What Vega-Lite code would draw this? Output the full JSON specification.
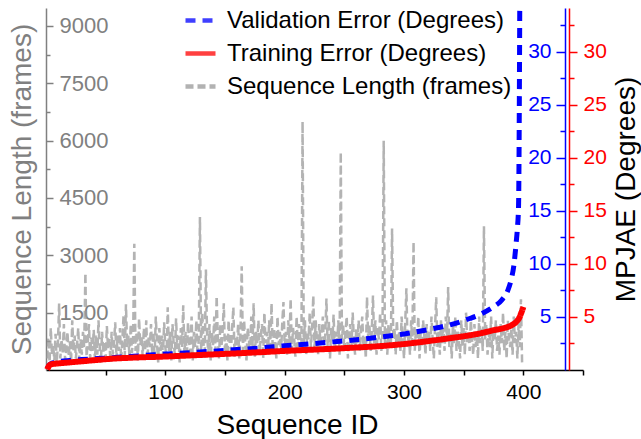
{
"$schema": "https://vega.github.io/schema/vega-lite/v6.json",
"width": 537, "height": 362,
"autosize": {"type": "none"},
"padding": {"left": 46, "top": 8, "right": 58, "bottom": 69},
"background": "white",
"config": {"view": {"stroke": null}, "font": "Liberation Sans",
  "axis": {"grid": false, "labelFont": "Liberation Sans", "titleFont": "Liberation Sans", "titleFontWeight": "normal", "labelOverlap": false, "labelFlush": false, "domainWidth": 1.5, "tickWidth": 1.5},
  "legend": {"orient": "none", "legendX": 137, "legendY": -5, "labelFontSize": 24, "labelFont": "Liberation Sans", "labelColor": "black", "symbolType": "stroke", "symbolSize": 900, "symbolStrokeWidth": 4.5, "labelOffset": 9, "rowPadding": 3, "labelLimit": 0}},
"datasets": {
"errors": [
{"id":1,"train":0.05,"val":0.1},{"id":3,"train":0.45,"val":0.5},{"id":5,"train":0.55,"val":0.65},{"id":10,"train":0.62,"val":0.78},{"id":20,"train":0.72,"val":0.9},{"id":30,"train":0.82,"val":0.98},{"id":40,"train":0.92,"val":1.05},{"id":50,"train":1.02,"val":1.12},{"id":60,"train":1.1,"val":1.2},{"id":70,"train":1.15,"val":1.27},{"id":80,"train":1.2,"val":1.35},{"id":90,"train":1.23,"val":1.43},{"id":100,"train":1.27,"val":1.5},{"id":120,"train":1.37,"val":1.63},{"id":140,"train":1.47,"val":1.77},{"id":160,"train":1.57,"val":1.92},{"id":180,"train":1.68,"val":2.08},{"id":200,"train":1.8,"val":2.28},{"id":220,"train":1.9,"val":2.45},{"id":240,"train":2.0,"val":2.65},{"id":260,"train":2.12,"val":2.85},{"id":280,"train":2.25,"val":3.1},{"id":300,"train":2.45,"val":3.4},{"id":320,"train":2.72,"val":3.8},{"id":340,"train":3.02,"val":4.3},{"id":355,"train":3.27,"val":4.85},{"id":365,"train":3.48,"val":5.3},{"id":375,"train":3.75,"val":5.95},{"id":382,"train":3.9,"val":6.6},{"id":387,"train":4.06,"val":7.5},{"id":390,"train":4.2,"val":8.6},{"id":392,"train":4.35,"val":9.8},{"id":393,"train":4.42,"val":10.8},{"id":394,"train":4.52,"val":12.0},{"id":395,"train":4.65,"val":13.3},{"id":396,"train":4.8,"val":15.5},{"id":397,"train":5.0,"val":34},{"id":398,"train":5.3,"val":null},{"id":399,"train":5.6,"val":null},{"id":400,"train":5.95,"val":null}
],
"lengths": [
{"id":1,"len":300},{"id":2,"len":850},{"id":3,"len":200},{"id":4,"len":1100},{"id":5,"len":400},{"id":6,"len":650},{"id":7,"len":250},{"id":8,"len":950},{"id":9,"len":180},{"id":10,"len":700},
{"id":11,"len":1740},{"id":12,"len":300},{"id":13,"len":800},{"id":14,"len":450},{"id":15,"len":1200},{"id":16,"len":250},{"id":17,"len":600},{"id":18,"len":1000},{"id":19,"len":350},{"id":20,"len":750},
{"id":21,"len":200},{"id":22,"len":1300},{"id":23,"len":500},{"id":24,"len":900},{"id":25,"len":300},{"id":26,"len":650},{"id":27,"len":1100},{"id":28,"len":250},{"id":29,"len":800},{"id":30,"len":400},
{"id":31,"len":1000},{"id":32,"len":600},{"id":33,"len":2540},{"id":34,"len":350},{"id":35,"len":700},{"id":36,"len":1200},{"id":37,"len":300},{"id":38,"len":850},{"id":39,"len":500},{"id":40,"len":1050},
{"id":41,"len":250},{"id":42,"len":900},{"id":43,"len":400},{"id":44,"len":1300},{"id":45,"len":600},{"id":46,"len":200},{"id":47,"len":1000},{"id":48,"len":450},{"id":49,"len":750},{"id":50,"len":300},
{"id":51,"len":1150},{"id":52,"len":550},{"id":53,"len":850},{"id":54,"len":200},{"id":55,"len":1000},{"id":56,"len":400},{"id":57,"len":700},{"id":58,"len":1250},{"id":59,"len":300},{"id":60,"len":900},
{"id":61,"len":500},{"id":62,"len":1100},{"id":63,"len":250},{"id":64,"len":800},{"id":65,"len":1430},{"id":66,"len":350},{"id":67,"len":1720},{"id":68,"len":600},{"id":69,"len":900},{"id":70,"len":300},
{"id":71,"len":1200},{"id":72,"len":450},{"id":73,"len":800},{"id":74,"len":3300},{"id":75,"len":500},{"id":76,"len":1000},{"id":77,"len":250},{"id":78,"len":1350},{"id":79,"len":650},{"id":80,"len":900},
{"id":81,"len":350},{"id":82,"len":1100},{"id":83,"len":500},{"id":84,"len":1300},{"id":85,"len":250},{"id":86,"len":850},{"id":87,"len":600},{"id":88,"len":1200},{"id":89,"len":400},{"id":90,"len":1000},
{"id":91,"len":300},{"id":92,"len":1400},{"id":93,"len":700},{"id":94,"len":200},{"id":95,"len":1100},{"id":96,"len":500},{"id":97,"len":900},{"id":98,"len":350},{"id":99,"len":1250},{"id":100,"len":600},
{"id":101,"len":300},{"id":102,"len":1640},{"id":103,"len":500},{"id":104,"len":1000},{"id":105,"len":250},{"id":106,"len":1200},{"id":107,"len":700},{"id":108,"len":400},{"id":109,"len":1350},{"id":110,"len":550},
{"id":111,"len":900},{"id":112,"len":200},{"id":113,"len":1100},{"id":114,"len":600},{"id":115,"len":1690},{"id":116,"len":400},{"id":117,"len":1000},{"id":118,"len":300},{"id":119,"len":1250},{"id":120,"len":700},
{"id":121,"len":450},{"id":122,"len":1400},{"id":123,"len":250},{"id":124,"len":1000},{"id":125,"len":600},{"id":126,"len":1300},{"id":127,"len":350},{"id":128,"len":800},{"id":129,"len":4000},{"id":130,"len":500},
{"id":131,"len":1500},{"id":132,"len":700},{"id":133,"len":300},{"id":134,"len":2630},{"id":135,"len":900},{"id":136,"len":450},{"id":137,"len":1200},{"id":138,"len":250},{"id":139,"len":1000},{"id":140,"len":650},
{"id":141,"len":1400},{"id":142,"len":500},{"id":143,"len":1930},{"id":144,"len":800},{"id":145,"len":300},{"id":146,"len":1200},{"id":147,"len":600},{"id":148,"len":1000},{"id":149,"len":1745},{"id":150,"len":400},
{"id":151,"len":900},{"id":152,"len":250},{"id":153,"len":1300},{"id":154,"len":700},{"id":155,"len":500},{"id":156,"len":1100},{"id":157,"len":1640},{"id":158,"len":350},{"id":159,"len":900},{"id":160,"len":600},
{"id":161,"len":1200},{"id":162,"len":300},{"id":163,"len":1000},{"id":164,"len":2716},{"id":165,"len":500},{"id":166,"len":1300},{"id":167,"len":700},{"id":168,"len":250},{"id":169,"len":1100},{"id":170,"len":800},
{"id":171,"len":400},{"id":172,"len":1400},{"id":173,"len":600},{"id":174,"len":1745},{"id":175,"len":350},{"id":176,"len":1000},{"id":177,"len":700},{"id":178,"len":1300},{"id":179,"len":450},{"id":180,"len":900},
{"id":181,"len":1200},{"id":182,"len":300},{"id":183,"len":1500},{"id":184,"len":700},{"id":185,"len":1000},{"id":186,"len":400},{"id":187,"len":1300},{"id":188,"len":600},{"id":189,"len":1745},{"id":190,"len":500},
{"id":191,"len":1100},{"id":192,"len":800},{"id":193,"len":300},{"id":194,"len":1400},{"id":195,"len":650},{"id":196,"len":1000},{"id":197,"len":450},{"id":198,"len":1250},{"id":199,"len":1780},{"id":200,"len":600},
{"id":201,"len":1000},{"id":202,"len":400},{"id":203,"len":1300},{"id":204,"len":700},{"id":205,"len":1870},{"id":206,"len":500},{"id":207,"len":1100},{"id":208,"len":800},{"id":209,"len":350},{"id":210,"len":1400},
{"id":211,"len":600},{"id":212,"len":1200},{"id":213,"len":900},{"id":214,"len":500},{"id":215,"len":6500},{"id":216,"len":700},{"id":217,"len":1300},{"id":218,"len":400},{"id":219,"len":1000},{"id":220,"len":800},
{"id":221,"len":1500},{"id":222,"len":600},{"id":223,"len":1100},{"id":224,"len":1950},{"id":225,"len":500},{"id":226,"len":1300},{"id":227,"len":800},{"id":228,"len":400},{"id":229,"len":1200},{"id":230,"len":700},
{"id":231,"len":1000},{"id":232,"len":1400},{"id":233,"len":500},{"id":234,"len":900},{"id":235,"len":1870},{"id":236,"len":600},{"id":237,"len":1300},{"id":238,"len":300},{"id":239,"len":1100},{"id":240,"len":800},
{"id":241,"len":1450},{"id":242,"len":500},{"id":243,"len":1000},{"id":244,"len":700},{"id":245,"len":1300},{"id":246,"len":400},{"id":247,"len":5700},{"id":248,"len":800},{"id":249,"len":1200},{"id":250,"len":500},
{"id":251,"len":1000},{"id":252,"len":1400},{"id":253,"len":300},{"id":254,"len":900},{"id":255,"len":1200},{"id":256,"len":600},{"id":257,"len":1500},{"id":258,"len":800},{"id":259,"len":400},{"id":260,"len":1100},
{"id":261,"len":700},{"id":262,"len":1300},{"id":263,"len":500},{"id":264,"len":1000},{"id":265,"len":1400},{"id":266,"len":600},{"id":267,"len":900},{"id":268,"len":300},{"id":269,"len":1910},{"id":270,"len":800},
{"id":271,"len":1200},{"id":272,"len":500},{"id":273,"len":1000},{"id":274,"len":1950},{"id":275,"len":700},{"id":276,"len":1300},{"id":277,"len":400},{"id":278,"len":1100},{"id":279,"len":800},{"id":280,"len":1500},
{"id":281,"len":500},{"id":282,"len":1000},{"id":283,"len":6000},{"id":284,"len":700},{"id":285,"len":1300},{"id":286,"len":400},{"id":287,"len":1200},{"id":288,"len":900},{"id":289,"len":600},{"id":290,"len":3700},
{"id":291,"len":800},{"id":292,"len":1100},{"id":293,"len":400},{"id":294,"len":1300},{"id":295,"len":700},{"id":296,"len":1000},{"id":297,"len":500},{"id":298,"len":1400},{"id":299,"len":800},{"id":300,"len":300},
{"id":301,"len":1200},{"id":302,"len":2140},{"id":303,"len":600},{"id":304,"len":1000},{"id":305,"len":400},{"id":306,"len":1300},{"id":307,"len":700},{"id":308,"len":3355},{"id":309,"len":500},{"id":310,"len":1100},
{"id":311,"len":800},{"id":312,"len":1400},{"id":313,"len":300},{"id":314,"len":1000},{"id":315,"len":600},{"id":316,"len":1300},{"id":317,"len":900},{"id":318,"len":400},{"id":319,"len":1200},{"id":320,"len":700},
{"id":321,"len":1000},{"id":322,"len":500},{"id":323,"len":1400},{"id":324,"len":800},{"id":325,"len":300},{"id":326,"len":1100},{"id":327,"len":1900},{"id":328,"len":600},{"id":329,"len":1000},{"id":330,"len":400},
{"id":331,"len":1300},{"id":332,"len":700},{"id":333,"len":1100},{"id":334,"len":500},{"id":335,"len":1400},{"id":336,"len":800},{"id":337,"len":2170},{"id":338,"len":600},{"id":339,"len":1000},{"id":340,"len":300},
{"id":341,"len":1200},{"id":342,"len":700},{"id":343,"len":1400},{"id":344,"len":500},{"id":345,"len":1000},{"id":346,"len":800},{"id":347,"len":300},{"id":348,"len":1300},{"id":349,"len":600},{"id":350,"len":1100},
{"id":351,"len":400},{"id":352,"len":1500},{"id":353,"len":700},{"id":354,"len":1000},{"id":355,"len":500},{"id":356,"len":1300},{"id":357,"len":800},{"id":358,"len":400},{"id":359,"len":1200},{"id":360,"len":600},
{"id":361,"len":1000},{"id":362,"len":300},{"id":363,"len":1400},{"id":364,"len":700},{"id":365,"len":1100},{"id":366,"len":500},{"id":367,"len":3760},{"id":368,"len":800},{"id":369,"len":1200},{"id":370,"len":400},
{"id":371,"len":1000},{"id":372,"len":600},{"id":373,"len":1400},{"id":374,"len":300},{"id":375,"len":1100},{"id":376,"len":800},{"id":377,"len":1300},{"id":378,"len":500},{"id":379,"len":900},{"id":380,"len":400},
{"id":381,"len":1200},{"id":382,"len":700},{"id":383,"len":1500},{"id":384,"len":500},{"id":385,"len":1000},{"id":386,"len":300},{"id":387,"len":1300},{"id":388,"len":800},{"id":389,"len":600},{"id":390,"len":1100},
{"id":391,"len":400},{"id":392,"len":1400},{"id":393,"len":700},{"id":394,"len":1000},{"id":395,"len":300},{"id":396,"len":1200},{"id":397,"len":600},{"id":398,"len":1850},{"id":399,"len":100}
]},
"encoding": {"x": {"field": "id", "type": "quantitative", "scale": {"domain": [0, 450], "nice": false, "zero": false},
  "axis": {"title": "Sequence ID", "values": [50,100,150,200,250,300,350,400,450], "labelExpr": "datum.value % 100 == 0 ? datum.label : ''", "domainColor": "black", "tickColor": "black", "labelColor": "black", "titleColor": "black", "labelFontSize": 21, "titleFontSize": 28, "tickSize": 5, "labelPadding": 6, "titleX": 251, "titleY": 63, "titleBaseline": "alphabetic", "format": "d"}}},
"layer": [
{"data": {"name": "lengths"},
 "mark": {"type": "line", "strokeWidth": 2.5, "opacity": 0.75},
 "encoding": {
  "y": {"field": "len", "type": "quantitative", "scale": {"domain": [0, 9470], "nice": false},
   "axis": {"orient": "left", "title": "Sequence Length (frames)", "values": [1500,3000,4500,6000,7500,9000], "format": "d", "tickSize": -7, "labelPadding": -6, "labelAlign": "left", "labelBaseline": "middle", "domainColor": "#808080", "tickColor": "#808080", "labelColor": "#808080", "titleColor": "#808080", "labelFontSize": 22, "titleFontSize": 28, "titleAngle": -90, "titleX": -24, "titleY": 181, "titleBaseline": "middle", "titleAlign": "center"}},
  "color": {"datum": "Sequence Length (frames)", "type": "nominal",
   "scale": {"domain": ["Validation Error (Degrees)", "Training Error (Degrees)", "Sequence Length (frames)"], "range": ["#0000ff", "#ff0000", "#999999"]}, "legend": {"title": null}},
  "strokeDash": {"datum": "Sequence Length (frames)", "type": "nominal",
   "scale": {"domain": ["Validation Error (Degrees)", "Training Error (Degrees)", "Sequence Length (frames)"], "range": [[10, 7], [1, 0], [8, 4]]}, "legend": {"title": null}}
 }},
{"data": {"name": "lengths"},
 "mark": {"type": "line", "opacity": 0},
 "encoding": {
  "y": {"field": "len", "type": "quantitative", "scale": {"domain": [0, 9470], "nice": false},
   "axis": {"orient": "left", "title": null, "values": [750,2250,3750,5250,6750,8250], "labels": false, "domain": false, "tickSize": -4, "tickColor": "#808080"}}
 }},
{"data": {"name": "errors"},
 "mark": {"type": "line", "interpolate": "monotone", "strokeWidth": 5},
 "encoding": {
  "y": {"field": "val", "type": "quantitative", "scale": {"domain": [0, 34.1], "nice": false},
   "axis": {"orient": "right", "offset": -18, "title": null, "values": [5,10,15,20,25,30], "format": "d", "tickSize": -9, "labelPadding": -5, "labelAlign": "right", "labelBaseline": "middle", "domainColor": "#0000ff", "tickColor": "#0000ff", "labelColor": "#0000ff", "labelFontSize": 21}},
  "color": {"datum": "Validation Error (Degrees)", "type": "nominal", "legend": {"title": null}},
  "strokeDash": {"datum": "Validation Error (Degrees)", "type": "nominal", "legend": {"title": null}}
 }},
{"data": {"name": "errors"},
 "mark": {"type": "line", "opacity": 0},
 "encoding": {
  "y": {"field": "val", "type": "quantitative", "scale": {"domain": [0, 34.1], "nice": false},
   "axis": {"orient": "right", "offset": -18, "title": null, "values": [2.5,7.5,12.5,17.5,22.5,27.5,32.5], "labels": false, "domain": false, "tickSize": -5, "tickColor": "#0000ff"}}
 }},
{"data": {"name": "errors"},
 "mark": {"type": "line", "interpolate": "monotone", "strokeWidth": 6},
 "encoding": {
  "y": {"field": "train", "type": "quantitative", "scale": {"domain": [0, 34.1], "nice": false},
   "axis": {"orient": "right", "offset": -14, "title": "MPJAE (Degrees)", "values": [5,10,15,20,25,30], "format": "d", "tickSize": 8, "labelPadding": 6, "labelAlign": "left", "labelBaseline": "middle", "domainColor": "#ff0000", "tickColor": "#ff0000", "labelColor": "#ff0000", "labelFontSize": 21, "titleFontSize": 28, "titleColor": "black", "titleAngle": -90, "titleX": 57, "titleY": 181, "titleBaseline": "middle", "titleAlign": "center"}},
  "color": {"datum": "Training Error (Degrees)", "type": "nominal", "legend": {"title": null}},
  "strokeDash": {"datum": "Training Error (Degrees)", "type": "nominal", "legend": {"title": null}}
 }},
{"data": {"name": "errors"},
 "mark": {"type": "line", "opacity": 0},
 "encoding": {
  "y": {"field": "train", "type": "quantitative", "scale": {"domain": [0, 34.1], "nice": false},
   "axis": {"orient": "right", "offset": -14, "title": null, "values": [2.5,7.5,12.5,17.5,22.5,27.5,32.5], "labels": false, "domain": false, "tickSize": 5, "tickColor": "#ff0000"}}
 }}
],
"resolve": {"scale": {"y": "independent"}, "axis": {"y": "independent"}}
}
